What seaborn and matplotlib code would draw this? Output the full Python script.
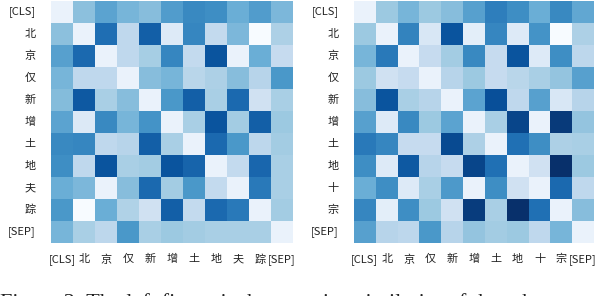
import matplotlib
matplotlib.use("Agg")
import matplotlib.pyplot as plt
import numpy as np
import seaborn as sns

plt.rcParams['font.family'] = ['Noto Sans CJK SC', 'DejaVu Sans']

left_tokens = ["[CLS]", "北", "京", "仅", "新", "增", "土", "地", "夫", "踪", "[SEP]"]
right_tokens = ["[CLS]", "北", "京", "仅", "新", "增", "土", "地", "十", "宗", "[SEP]"]

left_values = [
    [0.07, 0.42, 0.55, 0.47, 0.43, 0.58, 0.66, 0.64, 0.50, 0.58, 0.46],
    [0.42, 0.07, 0.76, 0.27, 0.82, 0.13, 0.67, 0.26, 0.46, 0.00, 0.33],
    [0.56, 0.78, 0.07, 0.27, 0.35, 0.67, 0.26, 0.86, 0.07, 0.50, 0.25],
    [0.47, 0.27, 0.27, 0.07, 0.43, 0.47, 0.29, 0.33, 0.43, 0.30, 0.60],
    [0.44, 0.84, 0.34, 0.43, 0.07, 0.60, 0.82, 0.34, 0.78, 0.20, 0.34],
    [0.55, 0.14, 0.66, 0.47, 0.62, 0.07, 0.34, 0.86, 0.36, 0.82, 0.38],
    [0.66, 0.67, 0.27, 0.30, 0.82, 0.34, 0.07, 0.78, 0.60, 0.28, 0.36],
    [0.64, 0.27, 0.86, 0.34, 0.36, 0.86, 0.80, 0.07, 0.26, 0.79, 0.34],
    [0.50, 0.46, 0.07, 0.43, 0.78, 0.36, 0.60, 0.26, 0.07, 0.72, 0.34],
    [0.60, 0.00, 0.50, 0.32, 0.20, 0.82, 0.26, 0.78, 0.72, 0.07, 0.36],
    [0.47, 0.34, 0.28, 0.60, 0.34, 0.38, 0.36, 0.34, 0.34, 0.34, 0.07],
]

right_values = [
    [0.07, 0.38, 0.47, 0.38, 0.43, 0.56, 0.70, 0.64, 0.50, 0.66, 0.53],
    [0.38, 0.07, 0.68, 0.16, 0.86, 0.10, 0.67, 0.13, 0.62, 0.00, 0.33],
    [0.47, 0.72, 0.07, 0.25, 0.36, 0.66, 0.25, 0.86, 0.13, 0.64, 0.28],
    [0.38, 0.20, 0.25, 0.07, 0.30, 0.38, 0.25, 0.29, 0.34, 0.40, 0.56],
    [0.43, 0.86, 0.34, 0.30, 0.07, 0.55, 0.88, 0.27, 0.56, 0.16, 0.30],
    [0.56, 0.13, 0.66, 0.38, 0.55, 0.07, 0.34, 0.92, 0.07, 0.96, 0.40],
    [0.72, 0.67, 0.25, 0.25, 0.90, 0.33, 0.07, 0.75, 0.64, 0.33, 0.34],
    [0.64, 0.13, 0.84, 0.30, 0.25, 0.92, 0.75, 0.07, 0.20, 1.00, 0.38],
    [0.50, 0.64, 0.13, 0.34, 0.59, 0.07, 0.64, 0.20, 0.07, 0.78, 0.27],
    [0.67, 0.10, 0.64, 0.38, 0.20, 0.95, 0.34, 1.00, 0.75, 0.07, 0.43],
    [0.56, 0.30, 0.28, 0.60, 0.30, 0.40, 0.36, 0.38, 0.27, 0.47, 0.07],
]

caption = "Figure 3: The left figure is the attention similarity of the tokens"

W, H = 598, 296
fig = plt.figure(figsize=(W / 100, H / 100), dpi=100)
ax1 = fig.add_axes([51 / W, (H - 243) / H, 242 / W, 242 / H])
ax2 = fig.add_axes([354 / W, (H - 243) / H, 240 / W, 242 / H])

for ax, vals, toks in [(ax1, left_values, left_tokens), (ax2, right_values, right_tokens)]:
    sns.heatmap(np.array(vals), ax=ax, cmap="Blues", vmin=0, vmax=1, cbar=False,
                xticklabels=toks, yticklabels=toks, square=False)
    ax.tick_params(axis='both', length=0, labelsize=8, colors='#222222')
    ax.tick_params(axis='y', pad=11)
    ax.tick_params(axis='x', pad=8)
    plt.setp(ax.get_yticklabels(), rotation=0)
    plt.setp(ax.get_xticklabels(), rotation=0)

# caption: only the top of its letters shows at the bottom edge
fig.text(0.0, 1 - 308 / H, caption, ha='left', va='baseline', fontsize=16,
         family=['Liberation Serif', 'DejaVu Serif'], color='#222222')

fig.savefig("out.png", dpi=100)
